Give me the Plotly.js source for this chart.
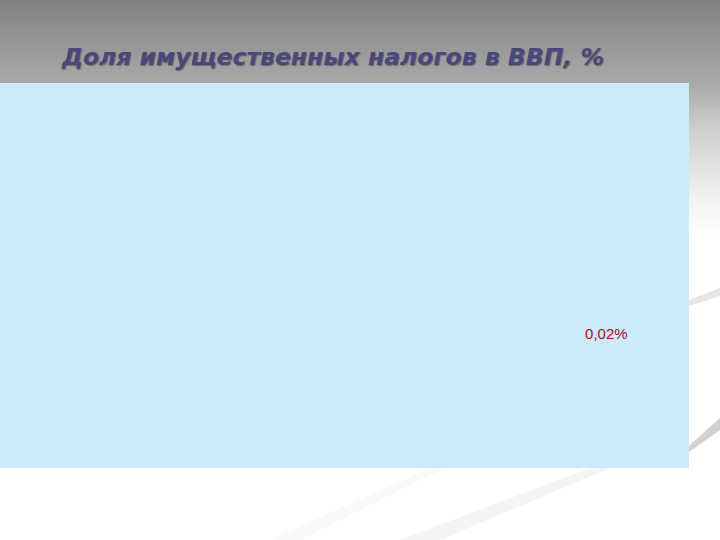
<!DOCTYPE html>
<html>
<head>
<meta charset="utf-8">
<script src="https://cdn.plot.ly/plotly-3.0.1.min.js"></script>
<style>
  html, body { margin: 0; padding: 0; }
  body {
    width: 720px; height: 540px; overflow: hidden;
    background: linear-gradient(to bottom, #828282 0px, #aaaaaa 85px, #cfcfcf 130px, #f2f2f2 200px, #ffffff 240px);
  }
  #chart { width: 720px; height: 540px; }
</style>
</head>
<body>
<div id="chart"></div>
<script>
//Chart data: share of property taxes in GDP, only one label is visible
var categories = ["Имущественные налоги"];
var shareValues = [0.02];
var valueLabels = ["0,02%"];

var chartTitle = "Доля имущественных налогов в ВВП, %";

//Convert slide pixels to paper coordinates of the plot area (0..689 x, 83..468 y)
function px(x) { return x / 689; }
function py(y) { return (468 - y) / 385; }

//Faint grey swooshes of the slide background
function swoosh(pts, color) {
    var d = "M" + pts.map(function (p) { return px(p[0]) + "," + py(p[1]); }).join(" L") + " Z";
    return { type: "path", xref: "paper", yref: "paper", path: d,
             fillcolor: color, line: { width: 0 }, layer: "below" };
}

var labelTrace = {
    x: categories, y: shareValues, text: valueLabels,
    type: "scatter", mode: "text", hoverinfo: "none",
    textfont: { family: "Liberation Sans, Arial, sans-serif", size: 15, color: "#c0001e" },
    showlegend: false
};

var layout = {
    width: 720, height: 540,
    margin: { l: 0, r: 31, t: 83, b: 72 },
    paper_bgcolor: "rgba(0,0,0,0)",
    plot_bgcolor: "#cceafc",
    title: {
        text: "<b><i>" + chartTitle + "</i></b>",
        x: 62 / 720, xanchor: "left",
        y: 1 - 57 / 540, yanchor: "middle",
        font: { family: "DejaVu Sans, sans-serif", size: 23.5, color: "#48487c",
                shadow: "1px 1px 1px #6a6a6a" }
    },
    xaxis: { type: "category", range: [-3.667, 0.5], visible: false, fixedrange: true },
    yaxis: { range: [0, 0.058], visible: false, fixedrange: true },
    shapes: [
        swoosh([[689, 300], [720, 288], [720, 296], [689, 306]], "#e6e6e6"),
        swoosh([[689, 446], [720, 418], [720, 430], [689, 452]], "#d2d2d2"),
        swoosh([[270, 540], [430, 468], [445, 468], [300, 540]], "#f9f9f9"),
        swoosh([[400, 540], [590, 468], [610, 468], [440, 540]], "#f4f4f4")
    ]
};

Plotly.newPlot("chart", [labelTrace], layout, { displayModeBar: false, staticPlot: true });
</script>
</body>
</html>
